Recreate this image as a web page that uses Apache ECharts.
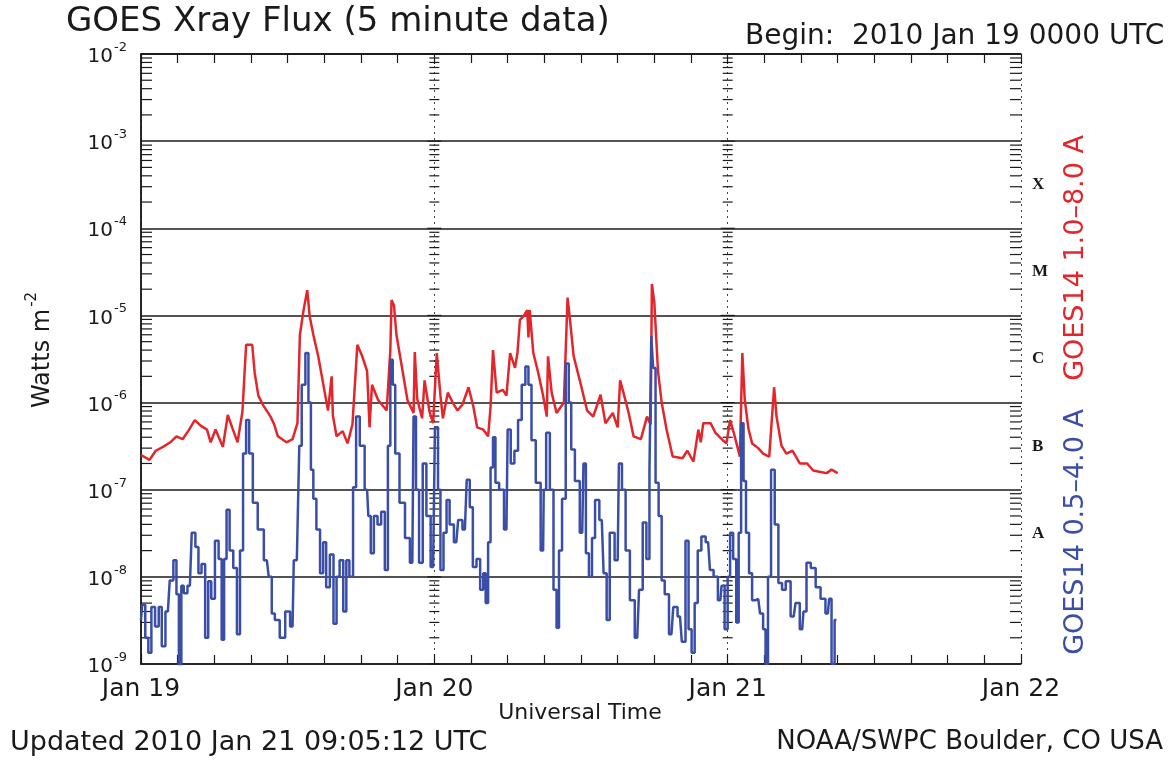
<!DOCTYPE html>
<html>
<head>
<meta charset="utf-8">
<script src="https://cdn.jsdelivr.net/npm/echarts@6/dist/echarts.min.js"></script>
<style>
html,body{margin:0;padding:0;background:#fff;}
#chart{width:1171px;height:760px;}
</style>
</head>
<body>
<div id="chart"></div>
<script>
// ---- Data (hours since 2010 Jan 19 00:00 UTC, flux in W m^-2) ----
const RED_T = [0,0.7,1.2,1.8,2.4,2.9,3.4,3.9,4.4,4.9,5.4,5.7,6.1,6.7,7.1,7.5,7.9,8.3,8.6,9.1,9.3,9.6,10.0,10.6,10.9,11.2,11.9,12.4,12.8,13.0,13.3,13.6,13.8,14.1,14.5,14.9,15.3,15.6,15.7,16.0,16.5,16.9,17.3,17.7,18.1,18.5,18.7,18.9,19.4,20.1,20.4,20.5,20.7,20.9,21.4,21.8,22.3,22.4,22.6,23.0,23.2,23.6,23.9,24.2,24.5,24.7,25.1,25.5,25.9,26.3,26.8,27.2,27.5,28.0,28.4,28.6,28.8,29.1,29.6,29.9,30.2,30.6,30.8,31.0,31.3,31.6,31.7,31.8,32.1,32.5,32.9,33.2,33.3,33.6,34.0,34.6,34.9,35.1,35.4,35.9,36.5,37.0,37.6,38.0,38.6,39.0,39.2,39.5,39.9,40.3,40.9,41.4,41.7,41.8,42.0,42.3,42.6,43.0,43.5,44.3,44.7,45.2,45.6,45.8,46.0,46.6,47.0,47.6,47.9,48.2,48.5,49.0,49.2,49.4,49.7,50.0,50.5,50.9,51.4,51.8,52.0,52.4,52.8,53.3,53.9,54.5,55.0,55.6,56.1,56.5,57.0];
const RED_V = [2.5e-7,2.2e-7,2.8e-7,3.1e-7,3.5e-7,4.1e-7,3.8e-7,4.8e-7,6.3e-7,5.4e-7,4.9e-7,3.5e-7,4.9e-7,3.1e-7,7.2e-7,5.0e-7,3.5e-7,7.9e-7,4.6e-6,4.6e-6,2.2e-6,1.2e-6,9.3e-7,6.9e-7,5.6e-7,4.1e-7,3.5e-7,3.8e-7,5.8e-7,6.0e-6,1.15e-5,1.95e-5,9.8e-6,6.0e-6,3.4e-6,1.66e-6,8.1e-7,2.0e-6,7.1e-7,4.1e-7,4.7e-7,3.4e-7,5.6e-7,4.6e-6,3.4e-6,2.3e-6,5.2e-7,1.6e-6,1.07e-6,8.1e-7,4.0e-6,1.5e-5,1.3e-5,6.0e-6,2.3e-6,1.07e-6,7.6e-7,3.8e-6,1.1e-6,6.6e-7,1.8e-6,7.9e-7,5.8e-7,3.7e-6,1.2e-6,6.6e-7,1.3e-6,1.0e-6,8.1e-7,9.5e-7,1.5e-6,8.9e-7,5.2e-7,4.9e-7,4.1e-7,8.9e-7,4.0e-6,1.3e-6,1.4e-6,1.2e-6,3.7e-6,2.5e-6,3.7e-6,8.9e-6,9.8e-6,1.15e-5,5.6e-6,1.15e-5,3.7e-6,2.2e-6,1.2e-6,6.9e-7,3.4e-6,1.3e-6,7.6e-7,1.0e-6,1.6e-5,8.9e-6,3.4e-6,1.8e-6,8.1e-7,6.9e-7,1.23e-6,5.8e-7,7.6e-7,5.2e-7,1.8e-6,1.26e-6,7.6e-7,4.1e-7,3.8e-7,6.9e-7,5.6e-7,2.3e-5,1.4e-5,2.3e-6,1.0e-6,4.9e-7,2.4e-7,2.3e-7,2.8e-7,2.1e-7,4.9e-7,3.5e-7,5.8e-7,5.8e-7,4.5e-7,3.7e-7,3.4e-7,6.3e-7,4.5e-7,2.4e-7,3.7e-6,1.07e-6,5.0e-7,3.4e-7,3.0e-7,2.6e-7,2.4e-7,1.5e-6,6.9e-7,3.2e-7,2.6e-7,2.8e-7,2.0e-7,2.0e-7,1.66e-7,1.6e-7,1.55e-7,1.7e-7,1.55e-7];

const BLUE_T = [0,0.2,0.5,0.7,1.0,1.3,1.6,1.8,2.2,2.5,2.8,3.0,3.2,3.4,3.6,4.0,4.3,4.6,4.8,5.1,5.4,5.6,5.9,6.2,6.5,6.7,6.9,7.1,7.4,7.7,8.0,8.2,8.5,8.7,9.0,9.3,9.8,10.3,10.6,10.8,11.1,11.6,12.0,12.4,12.6,12.9,13.0,13.3,13.6,13.8,14.0,14.2,14.5,14.8,15.0,15.3,15.6,15.9,16.1,16.4,16.7,16.9,17.2,17.5,17.7,18.1,18.5,18.7,18.9,19.2,19.5,19.8,20.1,20.3,20.5,20.7,20.9,21.4,21.8,22.2,22.4,22.6,22.9,23.2,23.5,23.9,24.2,24.4,24.6,24.9,25.1,25.4,25.8,26.1,26.5,26.8,27.0,27.3,27.6,27.9,28.1,28.3,28.5,28.7,28.9,29.1,29.5,29.9,30.1,30.4,30.7,31.0,31.3,31.6,31.8,32.1,32.5,32.9,33.0,33.3,33.6,33.9,34.1,34.3,34.6,34.9,35.1,35.3,35.7,36.1,36.3,36.5,36.8,37.0,37.3,37.7,38.0,38.2,38.5,39.0,39.2,39.5,39.8,40.2,40.6,40.9,41.2,41.5,41.7,41.8,42.0,42.2,42.5,42.7,43.0,43.4,43.7,44.1,44.4,44.7,44.9,45.2,45.4,45.7,46.0,46.4,46.7,47.0,47.4,47.6,47.9,48.1,48.3,48.6,48.8,49.0,49.2,49.4,49.6,49.9,50.1,50.5,50.8,51.0,51.2,51.4,51.7,52.0,52.3,52.6,52.9,53.4,53.7,54.1,54.3,54.6,55.0,55.4,55.8,56.2,56.4,56.6,56.9];
const BLUE_V = [3.2e-9,4.8e-9,2.0e-9,1.35e-9,4.5e-9,2.7e-9,4.5e-9,1.6e-9,4.0e-9,9.1e-9,1.55e-8,6.3e-9,9.3e-10,7.9e-9,6.5e-9,7.9e-9,3.2e-8,2.2e-8,1.1e-8,1.4e-8,2.0e-9,8.9e-9,5.6e-9,2.6e-8,1.6e-8,1.9e-9,1.6e-8,5.9e-8,2.0e-8,1.26e-8,2.2e-9,2.0e-8,2.6e-7,6.3e-7,2.6e-7,7.1e-8,3.5e-8,1.55e-8,1.0e-8,3.8e-9,3.2e-9,2.0e-9,4.0e-9,2.7e-9,1.55e-8,1.55e-8,3.2e-7,1.6e-6,3.7e-6,1.0e-6,1.7e-7,7.9e-8,3.5e-8,1.1e-8,2.5e-8,7.6e-9,1.8e-8,2.9e-9,1.0e-8,1.55e-8,4.0e-9,1.55e-8,1.0e-8,1.07e-7,6.9e-7,3.2e-7,1.0e-7,5.0e-8,1.86e-8,5.0e-8,4.0e-8,5.6e-8,1.2e-8,3.2e-7,3.1e-6,1.6e-6,2.6e-7,7.1e-8,2.8e-8,1.45e-8,6.9e-7,1.0e-7,1.45e-8,2.0e-7,5.0e-8,1.3e-8,5.2e-7,1.0e-7,1.2e-8,3.2e-8,7.6e-8,4.0e-8,2.5e-8,4.5e-8,3.5e-8,1.3e-7,6.3e-8,1.3e-8,1.6e-8,7.1e-9,1.1e-8,5.0e-9,2.5e-8,1.8e-7,4.0e-7,1.2e-7,1.0e-7,3.5e-8,4.9e-7,2.0e-7,2.8e-7,6.3e-7,1.6e-6,2.6e-6,1.6e-6,3.7e-7,1.2e-7,2.0e-8,1.0e-7,4.5e-7,1.0e-7,7.1e-9,2.6e-9,2.0e-8,7.9e-8,2.8e-6,1.0e-6,2.9e-7,1.26e-7,3.2e-8,2.0e-7,1.86e-8,1.0e-8,2.8e-8,7.6e-8,4.5e-8,1.1e-8,3.2e-9,3.2e-8,1.55e-8,2.0e-7,1.0e-7,2.0e-8,5.4e-9,2.0e-9,7.1e-9,4.2e-8,1.6e-8,1.6e-7,5.8e-6,2.5e-6,1.2e-7,5.0e-8,9.1e-9,6.3e-9,2.2e-9,4.5e-9,3.5e-9,1.8e-9,2.6e-8,2.5e-9,1.35e-9,5.0e-9,2.0e-8,2.9e-8,2.5e-8,1.2e-8,1.0e-8,5.4e-9,7.9e-9,2.5e-9,1.0e-8,3.2e-8,1.6e-8,3.0e-9,3.2e-8,5.8e-7,1.26e-7,3.2e-8,1.1e-8,5.4e-9,5.6e-9,3.8e-9,2.5e-9,1.0e-9,1.0e-8,1.7e-7,4.0e-8,8.5e-9,7.1e-9,8.9e-9,3.5e-9,5.0e-9,2.5e-9,4.0e-9,1.45e-8,1.26e-8,7.6e-9,5.6e-9,3.8e-9,5.6e-9,1.0e-9,3.2e-9];

// ---- Axis texts ----
const DAY_LABELS = ['Jan 19', 'Jan 20', 'Jan 21', 'Jan 22'];
const FLARE_CLASSES = ['A', 'B', 'C', 'M', 'X'];
const FLARE_CLASS_LOW_EXP = [-8, -7, -6, -5, -4];
const DECADE_EXPS = [-9, -8, -7, -6, -5, -4, -3];
const MINOR_MULTS = [2, 3, 4, 5, 6, 7, 8, 9];
const DAY_DIVIDERS = [24, 48];

const RED = '#e3262b';
const BLUE = '#3a4ea8';
const INK = '#1a1a1a';
const FONT = 'DejaVu Sans';

const redData = RED_T.map((t, i) => [t, RED_V[i]]);
const blueData = BLUE_T.map((t, i) => [t, BLUE_V[i]]);

// tick positions for the log ticks drawn on the frame and day dividers
const tickData = [];
DECADE_EXPS.forEach(e => {
  tickData.push([0, Math.pow(10, e), 1]);
  MINOR_MULTS.forEach(m => tickData.push([0, m * Math.pow(10, e), 0]));
});
tickData.push([0, 1e-2, 1]);

const chart = echarts.init(document.getElementById('chart'), null, {renderer: 'canvas'});

const option = {
  backgroundColor: '#ffffff',
  animation: false,
  grid: {left: 141, top: 54, width: 880, height: 610, containLabel: false},
  xAxis: [{
    type: 'value', min: 0, max: 72, interval: 24, position: 'bottom',
    axisLine: {show: true, lineStyle: {color: INK, width: 1.5}},
    axisTick: {show: true, inside: true, length: 10, lineStyle: {color: INK, width: 1.2}},
    minorTick: {show: true, splitNumber: 8, length: 9, lineStyle: {color: INK, width: 1.2}},
    axisLabel: {
      margin: 13, fontSize: 25, fontFamily: FONT, color: INK,
      formatter: v => DAY_LABELS[Math.round(v / 24)]
    },
    splitLine: {show: true, lineStyle: {color: '#444', width: 1, type: [2, 4]}},
    minorSplitLine: {show: false}
  }, {
    type: 'value', min: 0, max: 72, interval: 24, position: 'top',
    axisLine: {show: true, lineStyle: {color: INK, width: 1.5}},
    axisTick: {show: true, inside: true, length: 10, lineStyle: {color: INK, width: 1.2}},
    minorTick: {show: true, splitNumber: 8, length: 9, lineStyle: {color: INK, width: 1.2}},
    axisLabel: {show: false},
    splitLine: {show: false}
  }],
  yAxis: [{
    type: 'log', logBase: 10, min: 1e-9, max: 1e-2, splitNumber: 7,
    position: 'left',
    axisLine: {show: true, lineStyle: {color: INK, width: 1.5}},
    axisTick: {show: false},
    minorTick: {show: false},
    splitLine: {show: true, lineStyle: {color: INK, width: 1.5}},
    axisLabel: {
      margin: 14, color: INK,
      formatter: v => '{b|10}{s|' + Math.round(Math.log10(v)) + '}',
      rich: {
        b: {fontSize: 20, fontFamily: FONT, color: INK, verticalAlign: 'bottom', lineHeight: 26},
        s: {fontSize: 13, fontFamily: FONT, color: INK, verticalAlign: 'top', lineHeight: 26, padding: [0, 0, 14, 1]}
      }
    }
  }, {
    type: 'value', min: -9, max: -2, interval: 0.5, position: 'right',
    axisLine: {show: true, lineStyle: {color: INK, width: 1.5}},
    axisTick: {show: false},
    splitLine: {show: false},
    axisLabel: {
      margin: 11, fontSize: 17, fontWeight: 'bold', fontFamily: 'Liberation Serif', color: INK,
      formatter: v => {
        const i = FLARE_CLASS_LOW_EXP.indexOf(Math.round(v - 0.5));
        return (i >= 0 && Math.abs(v - Math.round(v - 0.5) - 0.5) < 1e-6) ? FLARE_CLASSES[i] : '';
      }
    }
  }],
  series: [{
    type: 'custom', xAxisIndex: 0, yAxisIndex: 0, silent: true, z: 1,
    data: tickData,
    encode: {x: 0, y: 1},
    renderItem: (params, api) => {
      const v = api.value(1);
      const major = api.value(2) === 1;
      const cs = params.coordSys;
      const y = api.coord([0, v])[1];
      const len = 11;
      const half = major ? 7 : 5;
      const style = {stroke: INK, lineWidth: 1.2};
      const children = [];
      if (!major) {
        children.push({type: 'line', shape: {x1: cs.x, y1: y, x2: cs.x + len, y2: y}, style});
        children.push({type: 'line', shape: {x1: cs.x + cs.width - len, y1: y, x2: cs.x + cs.width, y2: y}, style});
      }
      DAY_DIVIDERS.forEach(d => {
        const x = api.coord([d, v])[0];
        children.push({type: 'line', shape: {x1: x - half, y1: y, x2: x + half, y2: y}, style});
      });
      return {type: 'group', children};
    }
  }, {
    name: 'GOES14 1.0-8.0 A', type: 'line', xAxisIndex: 0, yAxisIndex: 0,
    data: redData, showSymbol: false, clip: true, z: 3,
    lineStyle: {color: RED, width: 2.5}, itemStyle: {color: RED}
  }, {
    name: 'GOES14 0.5-4.0 A', type: 'line', xAxisIndex: 0, yAxisIndex: 0,
    data: blueData, showSymbol: false, clip: true, z: 4, step: 'middle',
    lineStyle: {color: BLUE, width: 2.5}, itemStyle: {color: BLUE}
  }],
  graphic: [
    {type: 'text', left: 66, top: 5, style: {text: 'GOES Xray Flux (5 minute data)', font: 'normal 34px "DejaVu Sans"', fill: INK}},
    {type: 'text', left: 745, top: 23, style: {text: 'Begin:  2010 Jan 19 0000 UTC', font: 'normal 28px "DejaVu Sans"', fill: INK}},
    {type: 'text', x: 580, y: 713, style: {text: 'Universal Time', font: 'normal 22px "DejaVu Sans"', fill: INK, align: 'center', verticalAlign: 'middle'}},
    {type: 'text', left: 10, top: 729, style: {text: 'Updated 2010 Jan 21 09:05:12 UTC', font: 'normal 27px "DejaVu Sans"', fill: INK}},
    {type: 'text', right: 8, top: 729, style: {text: 'NOAA/SWPC Boulder, CO USA', font: 'normal 26px "DejaVu Sans"', fill: INK}},
    {type: 'text', x: 40, y: 350, rotation: Math.PI / 2,
      style: {
        text: '{b|Watts m}{s|-2}', align: 'center', verticalAlign: 'middle',
        rich: {
          b: {fontSize: 24, fontFamily: FONT, fill: INK, verticalAlign: 'bottom', lineHeight: 30},
          s: {fontSize: 15, fontFamily: FONT, fill: INK, verticalAlign: 'top', lineHeight: 30, padding: [0, 0, 14, 2]}
        }
      }},
    {type: 'text', x: 1076, y: 258, rotation: Math.PI / 2,
      style: {text: 'GOES14 1.0–8.0 A', font: 'normal 27px "DejaVu Sans"', fill: RED, align: 'center', verticalAlign: 'middle'}},
    {type: 'text', x: 1076, y: 532, rotation: Math.PI / 2,
      style: {text: 'GOES14 0.5–4.0 A', font: 'normal 27px "DejaVu Sans"', fill: BLUE, align: 'center', verticalAlign: 'middle'}}
  ]
};
chart.setOption(option);
</script>
</body>
</html>
